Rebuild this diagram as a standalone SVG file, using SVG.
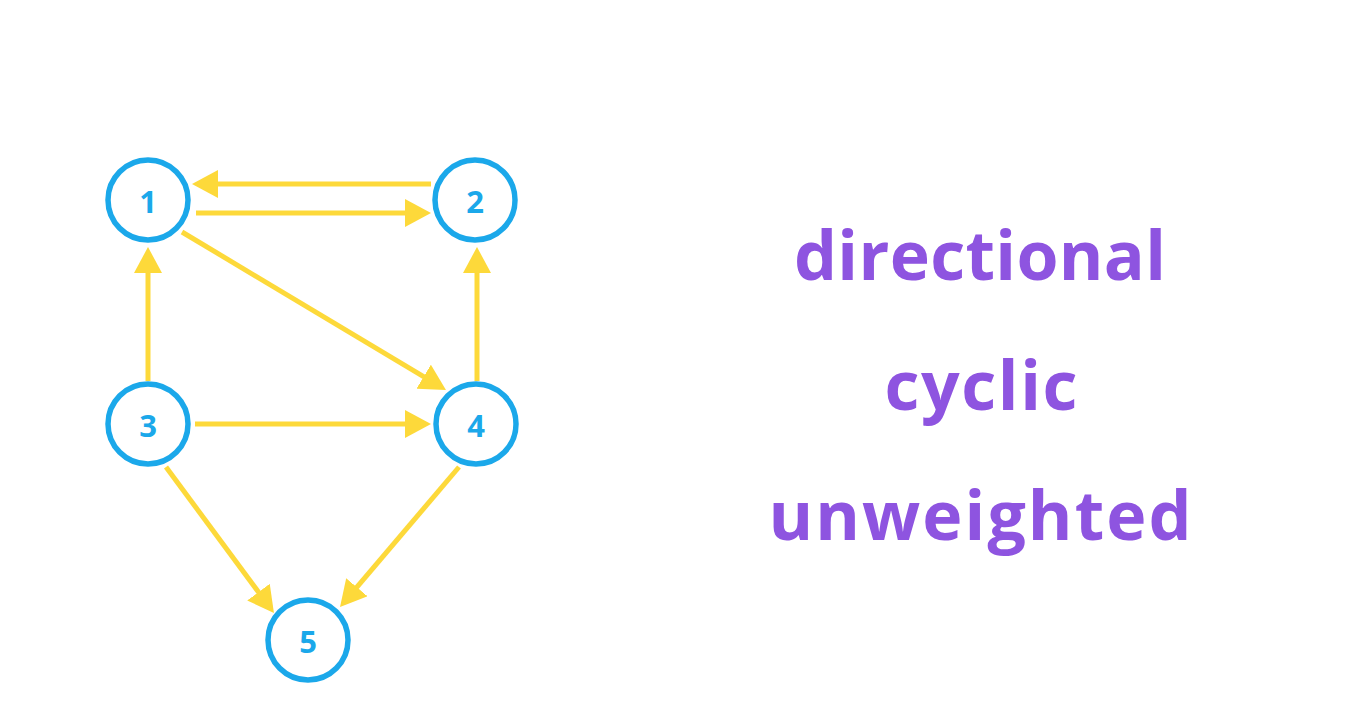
<svg xmlns="http://www.w3.org/2000/svg" width="1346" height="723" viewBox="0 0 1346 723">
<style>
.node circle{fill:#fff;stroke:#1ba8ea;stroke-width:5.5}
.node text{font-family:"Open Sans",Lato,sans-serif;font-weight:700;font-size:31px;fill:#1ba8ea;text-anchor:middle;dominant-baseline:central}
.edge{stroke:#fdd93a;stroke-width:5;fill:none;marker-end:url(#ah)}
.label{font-family:"Open Sans",Lato,sans-serif;font-weight:700;font-size:68px;fill:#8e54e0;text-anchor:middle;font-variant-ligatures:none}
</style>
<defs>
<marker id="ah" viewBox="0 0 26 28" refX="16" refY="14" markerWidth="26" markerHeight="28" markerUnits="userSpaceOnUse" orient="auto">
<path d="M0,0 L26,14 L0,28 z" fill="#fdd93a"/>
</marker>
</defs>
<rect width="1346" height="723" fill="#fff"/>
<g id="connectors">
<line class="edge" x1="431" y1="184" x2="202" y2="184"/>
<line class="edge" x1="196" y1="213" x2="421" y2="213"/>
<line class="edge" x1="148" y1="381" x2="148" y2="257"/>
<line class="edge" x1="182" y1="232" x2="437.4" y2="384.9"/>
<line class="edge" x1="477" y1="381" x2="477" y2="257"/>
<line class="edge" x1="195" y1="424" x2="421" y2="424"/>
<line class="edge" x1="166" y1="467" x2="268" y2="605"/>
<line class="edge" x1="459" y1="467" x2="346.5" y2="599.4"/>
</g>
<g id="node1" class="node"><circle cx="148" cy="200" r="40"/><text x="148" y="201">1</text></g>
<g id="node2" class="node"><circle cx="475" cy="200" r="40"/><text x="475" y="201">2</text></g>
<g id="node3" class="node"><circle cx="148" cy="424" r="40"/><text x="148" y="425">3</text></g>
<g id="node4" class="node"><circle cx="476" cy="424" r="40"/><text x="476" y="425">4</text></g>
<g id="node5" class="node"><circle cx="308" cy="640" r="40"/><text x="308" y="641">5</text></g>
<g id="labels">
<text class="label" x="980" y="280" textLength="372" lengthAdjust="spacing">directional</text>
<text class="label" x="981" y="410" textLength="193" lengthAdjust="spacing">cyclic</text>
<text class="label" x="980" y="540" textLength="423" lengthAdjust="spacing">unweighted</text>
</g>
</svg>
